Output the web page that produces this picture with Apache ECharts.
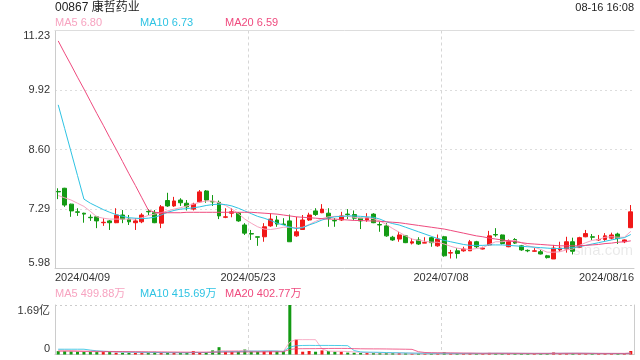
<!DOCTYPE html>
<html><head><meta charset="utf-8">
<script src="https://cdn.jsdelivr.net/npm/echarts@6/dist/echarts.min.js"></script>
<style>html,body{margin:0;padding:0;background:#fff}#c{width:640px;height:360px}</style>
</head><body><div id="c"></div>
<script>
// ---------- data ----------
const stockTitle = '00867 康哲药业';
const timeStamp = '08-16 16:08';
const xTickLabels = ['2024/04/09', '2024/05/23', '2024/07/08', '2024/08/16'];
const yTickLabels = ['5.98', '7.29', '8.60', '9.92', '11.23'];
const volTickLabels = ['0', '1.69亿'];
const priceMin = 5.98, priceMax = 11.23;
const volMax = 16900; // 万
const maPriceLabels = ['MA5 6.80', 'MA10 6.73', 'MA20 6.59'];
const maVolLabels = ['MA5 499.88万', 'MA10 415.69万', 'MA20 402.77万'];
const holidays = ['2024-05-01', '2024-05-15', '2024-06-10', '2024-07-01'];

const openP = [
  7.68,7.75,7.40,7.23,7.20,7.11,7.12,6.99,7.03,6.99,
  7.16,7.07,6.99,7.01,7.24,7.21,6.98,7.48,7.36,7.49,
  7.42,7.29,7.45,7.69,7.46,7.44,7.11,7.20,7.20,6.94,
  6.75,6.68,6.68,6.92,7.05,6.96,7.03,6.70,6.84,7.05,
  7.25,7.21,7.20,7.04,7.05,7.18,7.17,7.09,7.05,7.18,
  6.95,6.92,6.67,6.63,6.70,6.54,6.61,6.54,6.66,6.48,
  6.68,6.32,6.37,6.37,6.37,6.57,6.41,6.50,6.73,6.72,
  6.46,6.62,6.48,6.38,6.36,6.35,6.26,6.19,6.39,6.41,
  6.57,6.45,6.68,6.68,6.61,6.62,6.65,6.74,6.57,6.88];
const closeP = [
  7.67,7.38,7.25,7.22,7.18,7.10,7.03,7.00,6.99,7.16,
  7.07,7.01,7.03,7.16,7.23,6.99,7.34,7.36,7.47,7.43,
  7.34,7.40,7.67,7.49,7.45,7.14,7.12,7.23,7.03,6.76,
  6.74,6.67,6.90,7.07,6.96,6.95,6.57,6.79,7.05,7.16,
  7.17,7.29,7.09,7.03,7.14,7.17,7.09,7.03,7.10,6.99,
  6.94,6.70,6.61,6.72,6.55,6.57,6.52,6.55,6.55,6.63,
  6.26,6.33,6.31,6.41,6.57,6.46,6.43,6.70,6.72,6.53,
  6.59,6.54,6.39,6.37,6.37,6.30,6.22,6.43,6.43,6.57,
  6.36,6.66,6.75,6.67,6.62,6.70,6.72,6.64,6.61,7.23];
const lowP = [
  7.51,7.34,7.12,7.14,6.99,7.03,6.87,6.92,6.83,6.98,
  6.98,6.94,6.83,6.98,7.16,6.98,6.87,7.34,7.34,7.36,
  7.26,7.26,7.43,7.43,7.36,7.07,7.09,7.11,7.01,6.72,
  6.61,6.48,6.57,6.90,6.90,6.94,6.57,6.68,6.83,7.03,
  7.14,7.20,6.90,6.90,7.03,7.07,7.05,6.85,7.01,6.98,
  6.79,6.68,6.59,6.57,6.54,6.51,6.50,6.54,6.46,6.46,
  6.24,6.20,6.20,6.35,6.37,6.43,6.40,6.48,6.68,6.51,
  6.45,6.52,6.37,6.34,6.35,6.29,6.20,6.19,6.35,6.33,
  6.29,6.44,6.67,6.61,6.59,6.59,6.62,6.52,6.54,6.87];
const highP = [
  7.75,7.76,7.41,7.31,7.21,7.17,7.14,7.09,7.05,7.31,
  7.27,7.16,7.09,7.20,7.29,7.27,7.38,7.65,7.56,7.53,
  7.49,7.43,7.71,7.71,7.60,7.48,7.31,7.31,7.22,6.98,
  6.83,6.68,6.98,7.20,7.14,7.09,7.17,7.12,7.16,7.21,
  7.31,7.40,7.31,7.09,7.23,7.29,7.26,7.09,7.20,7.20,
  7.01,6.98,6.70,6.79,6.72,6.65,6.67,6.67,6.68,6.73,
  6.70,6.39,6.43,6.46,6.61,6.59,6.46,6.81,6.87,6.73,
  6.62,6.65,6.50,6.40,6.43,6.39,6.28,6.50,6.57,6.68,
  6.66,6.68,6.83,6.74,6.72,6.76,6.77,6.77,6.62,7.38];

const ma5 = [
  7.59,7.54,7.49,7.42,7.35,7.24,7.12,7.09,7.07,7.07,
  7.07,7.07,7.07,7.10,7.15,7.18,7.21,7.25,7.29,7.32,
  7.36,7.40,7.44,7.47,7.47,7.43,7.37,7.29,7.19,7.07,
  6.98,6.90,6.85,6.84,6.86,6.89,6.89,6.88,6.89,6.95,
  7.02,7.08,7.12,7.13,7.13,7.13,7.11,7.09,7.10,7.08,
  7.03,6.95,6.86,6.78,6.70,6.63,6.60,6.58,6.56,6.56,
  6.52,6.47,6.43,6.41,6.40,6.42,6.44,6.51,6.57,6.57,
  6.59,6.60,6.55,6.48,6.45,6.40,6.34,6.34,6.35,6.39,
  6.41,6.49,6.55,6.60,6.62,6.67,6.68,6.67,6.67,6.80];
const ma10 = [
  9.59,9.07,8.55,8.03,7.51,7.42,7.35,7.28,7.22,7.17,
  7.13,7.10,7.09,7.08,7.09,7.11,7.16,7.22,7.26,7.29,
  7.30,7.32,7.34,7.37,7.39,7.40,7.39,7.36,7.31,7.25,
  7.19,7.13,7.09,7.04,6.98,6.94,6.89,6.86,6.88,6.94,
  6.99,7.05,7.09,7.12,7.13,7.14,7.14,7.13,7.12,7.11,
  7.07,7.01,6.97,6.94,6.89,6.84,6.79,6.74,6.69,6.64,
  6.60,6.57,6.54,6.51,6.49,6.49,6.49,6.50,6.50,6.50,
  6.49,6.48,6.47,6.46,6.45,6.44,6.43,6.42,6.42,6.43,
  6.44,6.46,6.49,6.52,6.55,6.58,6.61,6.64,6.66,6.73];
const ma20 = [
  11.00,10.73,10.47,10.20,9.94,9.67,9.40,9.14,8.87,8.61,
  8.34,8.07,7.81,7.54,7.27,7.22,7.21,7.21,7.21,7.21,
  7.22,7.22,7.22,7.22,7.22,7.22,7.22,7.22,7.22,7.22,
  7.22,7.21,7.20,7.19,7.18,7.16,7.14,7.12,7.11,7.10,
  7.09,7.08,7.07,7.07,7.06,7.05,7.04,7.04,7.03,7.03,
  7.02,7.01,7.00,6.99,6.97,6.95,6.93,6.91,6.89,6.87,
  6.85,6.82,6.79,6.76,6.73,6.70,6.68,6.65,6.63,6.61,
  6.59,6.57,6.55,6.53,6.52,6.51,6.50,6.49,6.48,6.48,
  6.48,6.48,6.49,6.50,6.51,6.53,6.54,6.56,6.57,6.59];

// volume in 万 shares
const volume = [
  1150,1100,1000,950,950,950,950,950,900,650,
  600,600,600,650,600,900,650,650,650,600,
  600,1150,650,650,1400,2500,950,950,950,1700,
  1000,1000,1150,1200,1150,1150,16900,5100,950,1200,
  950,1400,1200,950,950,650,600,500,500,500,
  500,500,500,500,450,300,350,300,350,400,
  700,350,300,300,500,350,250,550,400,350,
  400,350,350,300,300,300,350,700,350,500,
  400,400,300,250,300,400,300,300,300,1200];
const volMa5 = [
  1500,1450,1350,1200,1050,1000,960,950,940,870,
  810,740,670,620,610,650,620,630,640,630,
  630,730,730,740,860,1260,1300,1300,1330,1410,
  1220,1120,1160,1210,1140,1100,4280,5090,5070,5080,
  5060,1920,1140,1100,1090,1030,870,730,630,550,
  520,500,500,500,490,450,420,380,340,340,
  420,420,420,410,430,360,340,390,410,410,
  390,410,370,350,340,320,320,400,410,440,
  460,470,420,370,330,330,310,310,340,500];
const volMa10 = [
  1800,1800,1800,1800,1800,1500,1250,1100,1000,920,
  860,830,800,760,720,700,660,640,620,600,
  590,650,670,680,750,920,960,960,990,1090,
  1130,1160,1180,1200,1180,1040,2570,2990,3080,3110,
  3080,3100,3090,3080,3060,3010,1340,880,810,770,
  740,670,610,570,520,470,450,440,430,420,
  420,400,380,370,380,390,390,400,410,410,
  410,390,380,380,370,370,370,390,390,400,
  400,400,390,380,370,350,350,340,330,416];
const volMa20 = [
  1150,1150,1140,1130,1120,1100,1080,1060,1040,1020,
  1000,980,960,940,920,900,880,860,840,820,
  800,800,790,780,790,820,830,840,850,870,
  880,890,900,920,930,940,1730,1960,1980,2000,
  2010,2040,2060,2070,2070,2060,2000,1950,1930,1920,
  1910,1890,1860,1830,1800,1760,940,680,620,590,
  570,540,510,480,460,440,420,420,420,410,
  410,400,400,390,390,390,390,390,390,390,
  390,390,390,390,380,380,380,380,380,403];

// ---------- build ----------
const dates = [];
(function(){
  let t = Date.UTC(2024, 3, 9); const end = Date.UTC(2024, 7, 16);
  while (t <= end) {
    const d = new Date(t); const wd = d.getUTCDay(); const s = d.toISOString().slice(0, 10);
    if (wd !== 0 && wd !== 6 && holidays.indexOf(s) < 0) dates.push(s.replace(/-/g, '/'));
    t += 86400000;
  }
})();

const UP = '#f01818', DOWN = '#139a13';
const C5 = '#f7a3c0', C10 = '#2ec3e3', C20 = '#ef4a7e';
const FONT = "'Liberation Sans', Arial, 'Noto Sans CJK SC', sans-serif";
const priceStep = (priceMax - priceMin) / 4;

const kData = openP.map((o, i) => [o, closeP[i], lowP[i], highP[i]]);
const volData = volume.map((v, i) => ({ value: v, itemStyle: { color: closeP[i] >= openP[i] ? UP : DOWN } }));

const chart = echarts.init(document.getElementById('c'), null, { renderer: 'canvas' });
const gridL = 55, gridR = 6;
const lbl = { color: '#333', fontSize: 11, fontFamily: FONT };

function txt(x, y, text, fill, size, align) {
  return { type: 'text', x: x, y: y, silent: true,
    style: { text: text, fill: fill, font: size + 'px ' + FONT, align: align || 'left', verticalAlign: 'middle' } };
}

chart.setOption({
  animation: false,
  backgroundColor: '#fff',
  grid: [
    { left: gridL, right: gridR, top: 30.5, height: 238 },
    { left: gridL, right: gridR, top: 305, height: 49.5 }
  ],
  xAxis: [
    { type: 'category', gridIndex: 0, data: dates, boundaryGap: true,
      axisLine: { show: true, lineStyle: { color: '#cccccc' } }, axisTick: { show: false }, axisLabel: { show: false }, splitLine: { show: false } },
    { type: 'value', gridIndex: 0, min: 0, max: 90, interval: 30, position: 'bottom',
      axisLine: { show: false }, axisTick: { show: false },
      axisLabel: Object.assign({}, lbl, { margin: 4, formatter: v => xTickLabels[Math.round(v / 30)] || '',
        alignMinLabel: 'left', alignMaxLabel: 'right', showMinLabel: true, showMaxLabel: true }),
      splitLine: { show: true, lineStyle: { type: [3, 3], color: ['rgba(0,0,0,0)', '#d6d6d6', '#d6d6d6', 'rgba(0,0,0,0)'] } } },
    { type: 'category', gridIndex: 0, data: dates, position: 'top',
      axisLine: { show: true, lineStyle: { color: '#dddddd' } }, axisTick: { show: false }, axisLabel: { show: false } },
    { type: 'category', gridIndex: 1, data: dates, boundaryGap: true,
      axisLine: { show: true, lineStyle: { color: '#cccccc' } }, axisTick: { show: false }, axisLabel: { show: false }, splitLine: { show: false } },
    { type: 'value', gridIndex: 1, min: 0, max: 90, interval: 30, position: 'bottom',
      axisLine: { show: false }, axisTick: { show: false }, axisLabel: { show: false },
      splitLine: { show: true, lineStyle: { type: [3, 3], color: ['rgba(0,0,0,0)', '#d6d6d6', '#d6d6d6', 'rgba(0,0,0,0)'] } } }
  ],
  yAxis: [
    { type: 'value', gridIndex: 0, min: priceMin, max: priceMax, interval: priceStep, scale: true,
      axisLine: { show: true, lineStyle: { color: '#cccccc' } }, axisTick: { show: false },
      axisLabel: Object.assign({}, lbl, { margin: 5, formatter: v => yTickLabels[Math.round((v - priceMin) / priceStep)] || '',
        verticalAlignMinLabel: 'bottom', verticalAlignMaxLabel: 'top' }),
      splitLine: { show: true, lineStyle: { type: [2, 3], width: 1, color: ['rgba(0,0,0,0)', '#dddddd', '#dddddd', '#dddddd', 'rgba(0,0,0,0)'] } } },
    { type: 'value', gridIndex: 1, min: 0, max: volMax, interval: volMax,
      axisLine: { show: true, lineStyle: { color: '#cccccc' } }, axisTick: { show: false },
      axisLabel: Object.assign({}, lbl, { margin: 5, formatter: v => volTickLabels[Math.round(v / volMax)] || '',
        verticalAlignMinLabel: 'bottom', verticalAlignMaxLabel: 'top' }),
      splitLine: { show: true, lineStyle: { type: [2, 3], color: ['rgba(0,0,0,0)', '#cccccc'] } } },
    { type: 'value', gridIndex: 1, min: 0, max: volMax, position: 'right',
      axisLine: { show: true, lineStyle: { color: '#cccccc' } }, axisTick: { show: false }, axisLabel: { show: false }, splitLine: { show: false } }
  ],
  series: [
    { type: 'candlestick', xAxisIndex: 0, yAxisIndex: 0, data: kData, barWidth: '68%', silent: true,
      itemStyle: { color: UP, color0: DOWN, borderColor: UP, borderColor0: DOWN, borderWidth: 1 } },
    { type: 'line', xAxisIndex: 0, yAxisIndex: 0, data: ma5, symbol: 'none', silent: true, lineStyle: { color: C5, width: 1 } },
    { type: 'line', xAxisIndex: 0, yAxisIndex: 0, data: ma10, symbol: 'none', silent: true, lineStyle: { color: C10, width: 1 } },
    { type: 'line', xAxisIndex: 0, yAxisIndex: 0, data: ma20, symbol: 'none', silent: true, lineStyle: { color: C20, width: 1 } },
    { type: 'bar', xAxisIndex: 3, yAxisIndex: 1, data: volData, barWidth: 3, silent: true },
    { type: 'line', xAxisIndex: 3, yAxisIndex: 1, data: volMa5, symbol: 'none', silent: true, lineStyle: { color: C5, width: 1, opacity: 0.85 } },
    { type: 'line', xAxisIndex: 3, yAxisIndex: 1, data: volMa10, symbol: 'none', silent: true, lineStyle: { color: C10, width: 1, opacity: 0.85 } },
    { type: 'line', xAxisIndex: 3, yAxisIndex: 1, data: volMa20, symbol: 'none', silent: true, lineStyle: { color: C20, width: 1, opacity: 0.85 } }
  ],
  graphic: [
    txt(55, 8, stockTitle, '#222', 12),
    txt(634, 8, timeStamp, '#222', 11, 'right'),
    txt(55, 23, maPriceLabels[0], C5, 11),
    txt(140, 23, maPriceLabels[1], C10, 11),
    txt(225, 23, maPriceLabels[2], C20, 11),
    txt(55, 294, maVolLabels[0], C5, 11),
    txt(140, 294, maVolLabels[1], C10, 11),
    txt(225, 294, maVolLabels[2], C20, 11),
    { type: 'text', x: 603, y: 251, silent: true, z: -1,
      style: { text: 'sina.com', fill: 'rgba(0,0,0,0.09)', font: '15px ' + FONT, align: 'center', verticalAlign: 'middle' } }
  ]
});
</script>
</body></html>
